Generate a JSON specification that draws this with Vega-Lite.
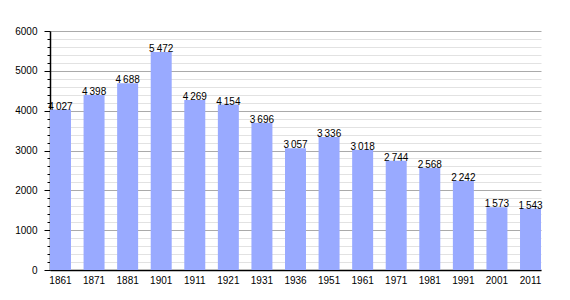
{
  "$schema": "https://vega.github.io/schema/vega-lite/v6.json",
  "width": 491,
  "height": 239,
  "autosize": {"type": "none"},
  "padding": {"left": 50, "top": 31, "right": 29, "bottom": 30},
  "background": "white",
  "config": {
    "locale": {"number": {"decimal": ",", "thousands": "\u2009", "grouping": [3], "currency": ["", ""]}},
    "view": {"stroke": null},
    "font": "Liberation Sans"
  },
  "data": {"values": [
    {"year": "1861", "pop": 4027},
    {"year": "1871", "pop": 4398},
    {"year": "1881", "pop": 4688},
    {"year": "1901", "pop": 5472},
    {"year": "1911", "pop": 4269},
    {"year": "1921", "pop": 4154},
    {"year": "1931", "pop": 3696},
    {"year": "1936", "pop": 3057},
    {"year": "1951", "pop": 3336},
    {"year": "1961", "pop": 3018},
    {"year": "1971", "pop": 2744},
    {"year": "1981", "pop": 2568},
    {"year": "1991", "pop": 2242},
    {"year": "2001", "pop": 1573},
    {"year": "2011", "pop": 1543}
  ]},
  "encoding": {
    "x": {
      "field": "year", "type": "nominal", "sort": null,
      "scale": {"paddingInner": 0.375, "paddingOuter": 0},
      "axis": {"title": null, "labelAngle": 0, "ticks": false, "domainColor": "black", "domainWidth": 1.5, "labelFontSize": 10, "labelColor": "black", "labelPadding": 5}
    },
    "y": {
      "field": "pop", "type": "quantitative",
      "scale": {"domain": [0, 6000], "nice": false},
      "axis": {
        "title": null,
        "values": [0,200,400,600,800,1000,1200,1400,1600,1800,2000,2200,2400,2600,2800,3000,3200,3400,3600,3800,4000,4200,4400,4600,4800,5000,5200,5400,5600,5800,6000],
        "labelExpr": "datum.value % 1000 === 0 ? format(datum.value, 'd') : ''",
        "grid": true,
        "gridColor": {"condition": {"test": "datum.value % 1000 === 0", "value": "#aaaaaa"}, "value": "#e2e2e2"},
        "tickSize": {"condition": {"test": "datum.value % 1000 === 0", "value": 6}, "value": 3},
        "tickColor": "black",
        "domainColor": "black",
        "domainWidth": 1.5,
        "labelFontSize": 10,
        "labelColor": "black",
        "labelPadding": 7
      }
    }
  },
  "layer": [
    {"mark": {"type": "bar", "color": "#99aaff"}},
    {"mark": {"type": "text", "baseline": "alphabetic", "fontSize": 10, "color": "black", "dy": 0},
     "encoding": {"text": {"field": "pop", "type": "quantitative", "format": ",d"}}}
  ]
}
